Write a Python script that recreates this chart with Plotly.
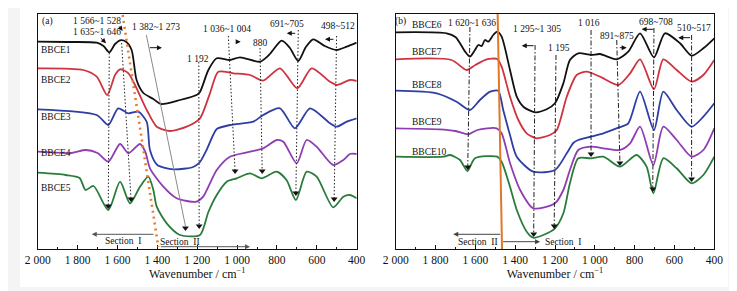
import plotly.graph_objects as go

# ---------------- data: panel (a) ----------------
a_names = ["BBCE1", "BBCE2", "BBCE3", "BBCE4", "BBCE5"]
a1_w = [2000, 1855, 1704, 1670, 1641, 1612, 1587, 1557, 1529, 1504, 1470, 1420, 1382, 1286, 1203, 1186, 1144, 1102, 1036, 985, 885, 840, 776, 735, 693, 655, 618, 560, 501, 450, 400]
a1_v = [41.7, 42, 42.7, 46, 52.3, 44, 40.3, 41.7, 50, 80, 93, 99, 104, 100, 95, 92, 70, 58.3, 60, 57.3, 61.7, 55, 40.7, 48, 61, 47, 39.3, 46, 50, 46.7, 42.7]
a2_w = [2000, 1771, 1704, 1651, 1612, 1587, 1545, 1504, 1453, 1403, 1336, 1253, 1186, 1136, 1094, 1019, 935, 869, 785, 698, 626, 534, 501, 434, 400]
a2_v = [68.3, 70, 76.7, 95, 75, 69.3, 73.3, 88.3, 110, 126.7, 131, 126.7, 118.3, 93.3, 71.7, 73.3, 75, 80.7, 68.3, 88.3, 68.3, 81.7, 85, 80, 81]
a3_w = [2000, 1704, 1646, 1596, 1545, 1495, 1453, 1437, 1400, 1320, 1220, 1186, 1153, 1120, 1102, 1036, 919, 869, 785, 710, 634, 534, 501, 450, 400]
a3_v = [109.3, 115, 125, 108.3, 113.3, 111.7, 122, 150, 165, 169.3, 167, 162, 150, 135, 129, 125, 121.7, 115, 108.3, 128.3, 108.3, 123.3, 126.7, 121.7, 118.3]
a4_w = [2000, 1830, 1760, 1700, 1646, 1587, 1545, 1487, 1460, 1437, 1370, 1303, 1203, 1170, 1102, 1036, 935, 869, 801, 768, 701, 651, 601, 518, 467, 434, 400]
a4_v = [151.7, 153, 150, 153, 161.7, 144, 153.3, 144, 152, 168.3, 186.7, 198.3, 201.7, 196.7, 170, 156.7, 151.7, 148.3, 140, 141.7, 163.3, 140, 146.7, 165, 160, 154, 154]
a5_w = [2000, 1860, 1790, 1760, 1720, 1646, 1587, 1537, 1487, 1445, 1420, 1403, 1353, 1286, 1186, 1144, 1102, 1052, 1002, 935, 877, 801, 752, 705, 651, 601, 518, 467, 434, 400]
a5_v = [172.7, 175, 178, 190, 186, 210, 181.7, 203.3, 186.7, 176.7, 190, 206.7, 223.3, 235, 235, 212, 195, 181.7, 178.3, 173.3, 178.3, 171.7, 180, 200, 171.7, 176.7, 207.3, 196.7, 195, 198.3]

# ---------------- data: panel (b) ----------------
b_names = ["BBCE6", "BBCE7", "BBCE8", "BBCE9", "BBCE10"]
b1_w = [2000, 1744, 1700, 1677, 1650, 1627, 1602, 1585, 1568, 1552, 1535, 1510, 1490, 1468, 1426, 1392, 1359, 1300, 1242, 1200, 1158, 1125, 1083, 1019, 974, 890, 832, 773, 703, 648, 572, 514, 455, 400]
b1_v = [32.3, 33.3, 37, 43.3, 52, 56.7, 50, 45, 46, 40, 41.7, 35, 31.7, 36.7, 70, 96.7, 106.7, 112.3, 109.3, 103.3, 83.3, 60, 53.3, 55, 54, 59.3, 51.7, 33.3, 57.3, 33.3, 43.3, 55.7, 48.3, 38.3]
b2_w = [2000, 1720, 1644, 1600, 1543, 1490, 1468, 1426, 1384, 1342, 1292, 1225, 1191, 1141, 1091, 1041, 974, 882, 823, 773, 703, 656, 589, 514, 455, 400]
b2_v = [59.3, 60, 70, 65, 59.3, 59, 66.7, 96.7, 120, 133.3, 138.3, 135, 130, 96.7, 75, 71.7, 76.7, 85, 73.3, 59.3, 89.3, 59.3, 70, 81.7, 75, 60]
b3_w = [2000, 1794, 1694, 1627, 1577, 1526, 1485, 1460, 1426, 1392, 1309, 1200, 1141, 1108, 1083, 1019, 957, 882, 832, 773, 703, 656, 589, 514, 455, 400]
b3_v = [90.7, 93.3, 101.7, 110, 100, 91.7, 90.7, 110, 135, 156.7, 171.7, 170, 153.3, 143, 140, 136.7, 133.3, 127.7, 123.3, 91.7, 130, 91.7, 110, 126.7, 116.7, 103.3]
b4_w = [2000, 1780, 1700, 1635, 1590, 1493, 1468, 1426, 1375, 1309, 1200, 1158, 1125, 1083, 1019, 957, 874, 823, 773, 706, 656, 589, 514, 455, 400]
b4_v = [128.3, 129.3, 131, 134.3, 130, 128.3, 133.3, 163, 190, 208.3, 203.3, 190, 170, 150, 146.7, 148.3, 150, 143.3, 126.7, 165, 126.7, 140, 156.7, 150, 128.3]
b5_w = [2000, 1761, 1727, 1677, 1640, 1602, 1490, 1468, 1426, 1392, 1342, 1309, 1259, 1200, 1158, 1125, 1083, 1019, 957, 874, 790, 740, 706, 656, 589, 514, 455, 400]
b5_v = [156.7, 156.7, 155, 160, 171, 158.3, 156.7, 161.7, 186.7, 210, 231.7, 237.7, 235, 228.3, 213.3, 183.3, 158.3, 158.3, 156.7, 166.7, 155, 166.7, 193.3, 158.3, 168.3, 183.3, 175, 156.7]

colors = ["#111111", "#cf3340", "#2f3ea6", "#8f3db3", "#2a7c3c"]
tick_vals = [2000, 1800, 1600, 1400, 1200, 1000, 800, 600, 400]
tick_text = ["2 000", "1 800", "1 600", "1 400", "1 200", "1 000", "800", "600", "400"]

# band-label annotations (text, wavenumber, level)
a_band_labels = [("1 566~1 528", 1704, 21), ("1 635~1 646", 1704, 32.3), ("1 382~1 273", 1405, 27.3),
                 ("1 036~1 004", 1049, 29.3), ("880", 885, 43.3), ("1 192", 1195, 59.3),
                 ("691~705", 751, 24), ("498~512", 492, 26)]
b_band_labels = [("1 620~1 636", 1618, 22.7), ("1 295~1 305", 1290, 29.3), ("1 195", 1181, 48.3),
                 ("1 016", 1029, 22.7), ("891~875", 891, 35.7), ("698~708", 691, 21.7), ("510~517", 500, 28.3)]
a_name_levels = [50, 80, 116.7, 153.3, 188]
b_name_levels = [24.5, 52, 85, 121.7, 151.5]

# guide lines: (w_top, v_top, w_bottom, v_bottom)
a_guides = [(1641, 53, 1646, 206), (1579, 43, 1532, 199), (1192, 62, 1190, 226), (1044, 36, 1010, 171),
            (885, 48, 874, 171), (693, 30, 705, 193), (501, 36, 513, 199)]
b_guides = [(1627, 27, 1638, 167), (1300, 45, 1307, 234), (1195, 55, 1204, 226), (1019, 30, 1019, 154),
            (890, 40, 874, 163), (703, 28, 709, 189), (514, 35, 514, 179)]

FONT = "Liberation Serif, Times New Roman, serif"
# page body has an 8 px margin: the figure is 8 px smaller and every position is shifted by 8 px
OFF = 8
W, H = 737 - OFF, 291 - OFF


def fx(px):
    return (px - OFF) / W


def fy(py):
    return (291 - py) / H


fig = go.Figure()
a_w = [a1_w, a2_w, a3_w, a4_w, a5_w]
a_v = [a1_v, a2_v, a3_v, a4_v, a5_v]
b_w = [b1_w, b2_w, b3_w, b4_w, b5_w]
b_v = [b1_v, b2_v, b3_v, b4_v, b5_v]
for i in range(5):
    fig.add_trace(go.Scatter(x=a_w[i], y=a_v[i], mode="lines", name=a_names[i],
                             line=dict(color=colors[i], width=1.8, shape="spline", smoothing=0.7),
                             xaxis="x", yaxis="y", showlegend=False, hoverinfo="skip"))
    fig.add_trace(go.Scatter(x=b_w[i], y=b_v[i], mode="lines", name=b_names[i],
                             line=dict(color=colors[i], width=1.8, shape="spline", smoothing=0.7),
                             xaxis="x2", yaxis="y2", showlegend=False, hoverinfo="skip"))

shapes = []
annotations = []
# background
shapes.append(dict(type="rect", xref="paper", yref="paper", x0=fx(20), x1=fx(728), y0=fy(287), y1=1.0,
                   fillcolor="white", line=dict(width=0), layer="below"))

# panel (a) guides
for (wt, vt, wb, vb) in a_guides:
    shapes.append(dict(type="line", xref="x", yref="y", x0=wt, y0=vt, x1=wb, y1=vb,
                       line=dict(color="#222", width=1, dash="1.5px,2px")))
fig.add_trace(go.Scatter(x=[g[2] for g in a_guides] + [1259], y=[g[3] for g in a_guides] + [228],
                         mode="markers", marker=dict(symbol="triangle-down", size=6, color="#111"),
                         xaxis="x", yaxis="y", showlegend=False, hoverinfo="skip"))
# grey slanted line (a)
shapes.append(dict(type="line", xref="x", yref="y", x0=1455, y0=35, x1=1259, y1=226,
                   line=dict(color="#8a8a8a", width=1)))
# orange dotted boundary (a)
shapes.append(dict(type="line", xref="x", yref="y", x0=1574, y0=15, x1=1395, y1=247,
                   line=dict(color="#ea7a2c", width=2.6, dash="2px,4px")))

# panel (b) guides
for (wt, vt, wb, vb) in b_guides:
    shapes.append(dict(type="line", xref="x2", yref="y2", x0=wt, y0=vt, x1=wb, y1=vb,
                       line=dict(color="#222", width=1, dash="5px,2px,1.5px,2px")))
fig.add_trace(go.Scatter(x=[g[2] for g in b_guides], y=[g[3] for g in b_guides],
                         mode="markers", marker=dict(symbol="triangle-down", size=6, color="#111"),
                         xaxis="x2", yaxis="y2", showlegend=False, hoverinfo="skip"))
# orange solid boundary (b)
shapes.append(dict(type="line", xref="x2", yref="y2", x0=1488, y0=14, x1=1466, y1=249,
                   line=dict(color="#e0782a", width=2)))


def arrow(xr, yr, head_w, tail_w, v, color="#111", width=1):
    annotations.append(dict(xref=xr, yref=yr, axref=xr, ayref=yr, x=head_w, y=v, ax=tail_w, ay=v,
                            text="", showarrow=True, arrowhead=2, arrowsize=1, arrowwidth=width,
                            arrowcolor=color))


def arrow2(xr, yr, hw, hv, tw, tv):
    annotations.append(dict(xref=xr, yref=yr, axref=xr, ayref=yr, x=hw, y=hv, ax=tw, ay=tv,
                            text="", showarrow=True, arrowhead=2, arrowsize=1, arrowwidth=1,
                            arrowcolor="#111"))


# small direction arrows (a)
arrow("x", "y", 1377, 1445, 47.7)
arrow("x", "y", 982, 1011, 41.7)
arrow("x", "y", 751, 701, 33.3)
arrow("x", "y", 559, 509, 39.3)
arrow2("x", "y", 1657, 43.3, 1691, 36.7)
arrow2("x", "y", 1574, 31, 1596, 25)
# section arrows (a)
arrow("x", "y", 1729, 1412, 234.3, color="#555")
arrow("x", "y", 935, 1390, 246.7, color="#555")
# small direction arrows (b)
arrow("x2", "y2", 1367, 1300, 45.7)
arrow("x2", "y2", 840, 882, 47.7)
arrow("x2", "y2", 765, 698, 29.3)
arrow("x2", "y2", 581, 514, 37.7)
# section arrows (b)
arrow("x2", "y2", 1711, 1468, 234.3, color="#444")
arrow("x2", "y2", 1275, 1468, 241.7, color="#444")

# texts
tf = dict(family=FONT, size=9.5, color="#111")
for (t, w, v) in a_band_labels:
    annotations.append(dict(xref="x", yref="y", x=w, y=v, text=t, showarrow=False, font=tf))
for (t, w, v) in b_band_labels:
    annotations.append(dict(xref="x2", yref="y2", x=w, y=v, text=t, showarrow=False, font=tf))
for n, v in zip(a_names, a_name_levels):
    annotations.append(dict(xref="x", yref="y", x=1996, y=v, text=n, showarrow=False, font=tf, xanchor="left"))
for n, v in zip(b_names, b_name_levels):
    annotations.append(dict(xref="x2", yref="y2", x=1930, y=v, text=n, showarrow=False, font=tf, xanchor="left"))
annotations.append(dict(xref="x", yref="y", x=1950, y=21.5, text="(a)", showarrow=False, font=tf))
annotations.append(dict(xref="x2", yref="y2", x=1974, y=21, text="(b)", showarrow=False, font=tf))
annotations.append(dict(xref="x", yref="y", x=1570, y=241, text="Section  I", showarrow=False, font=tf))
annotations.append(dict(xref="x", yref="y", x=1285, y=242, text="Section  II", showarrow=False, font=tf))
annotations.append(dict(xref="x2", yref="y2", x=1587, y=241.7, text="Section  II", showarrow=False, font=tf))
annotations.append(dict(xref="x2", yref="y2", x=1160, y=241.7, text="Section  I", showarrow=False, font=tf))

xax = dict(range=[2000, 400], tickmode="array", tickvals=tick_vals, ticktext=tick_text,
           ticks="inside", ticklen=4, tickwidth=1, tickcolor="#111",
           minor=dict(dtick=100, tick0=0, ticks="inside", ticklen=2, tickcolor="#111"),
           showline=True, linecolor="#111", linewidth=1.3, mirror=True, showgrid=False, zeroline=False,
           automargin=False,
           tickfont=dict(family=FONT, size=11.5, color="#111"),
           title=dict(text="Wavenumber / cm<sup>−1</sup>", font=dict(family=FONT, size=12, color="#111"), standoff=2))
yax = dict(range=[249, 14], showticklabels=False, ticks="", showline=True, linecolor="#111", linewidth=1.3,
           mirror=True, showgrid=False, zeroline=False, automargin=False)

fig.update_layout(
    width=W, height=H, margin=dict(l=0, r=0, t=0, b=0, pad=0, autoexpand=False),
    paper_bgcolor="#f4f4f4", plot_bgcolor="white",
    xaxis=dict(xax, domain=[fx(37.7), fx(356.7)], anchor="y"),
    yaxis=dict(yax, domain=[fy(249), fy(14)], anchor="x"),
    xaxis2=dict(xax, domain=[fx(395.7), fx(714.3)], anchor="y2"),
    yaxis2=dict(yax, domain=[fy(249), fy(14)], anchor="x2"),
    shapes=shapes, annotations=annotations, showlegend=False,
)
fig.write_html("out.html")
